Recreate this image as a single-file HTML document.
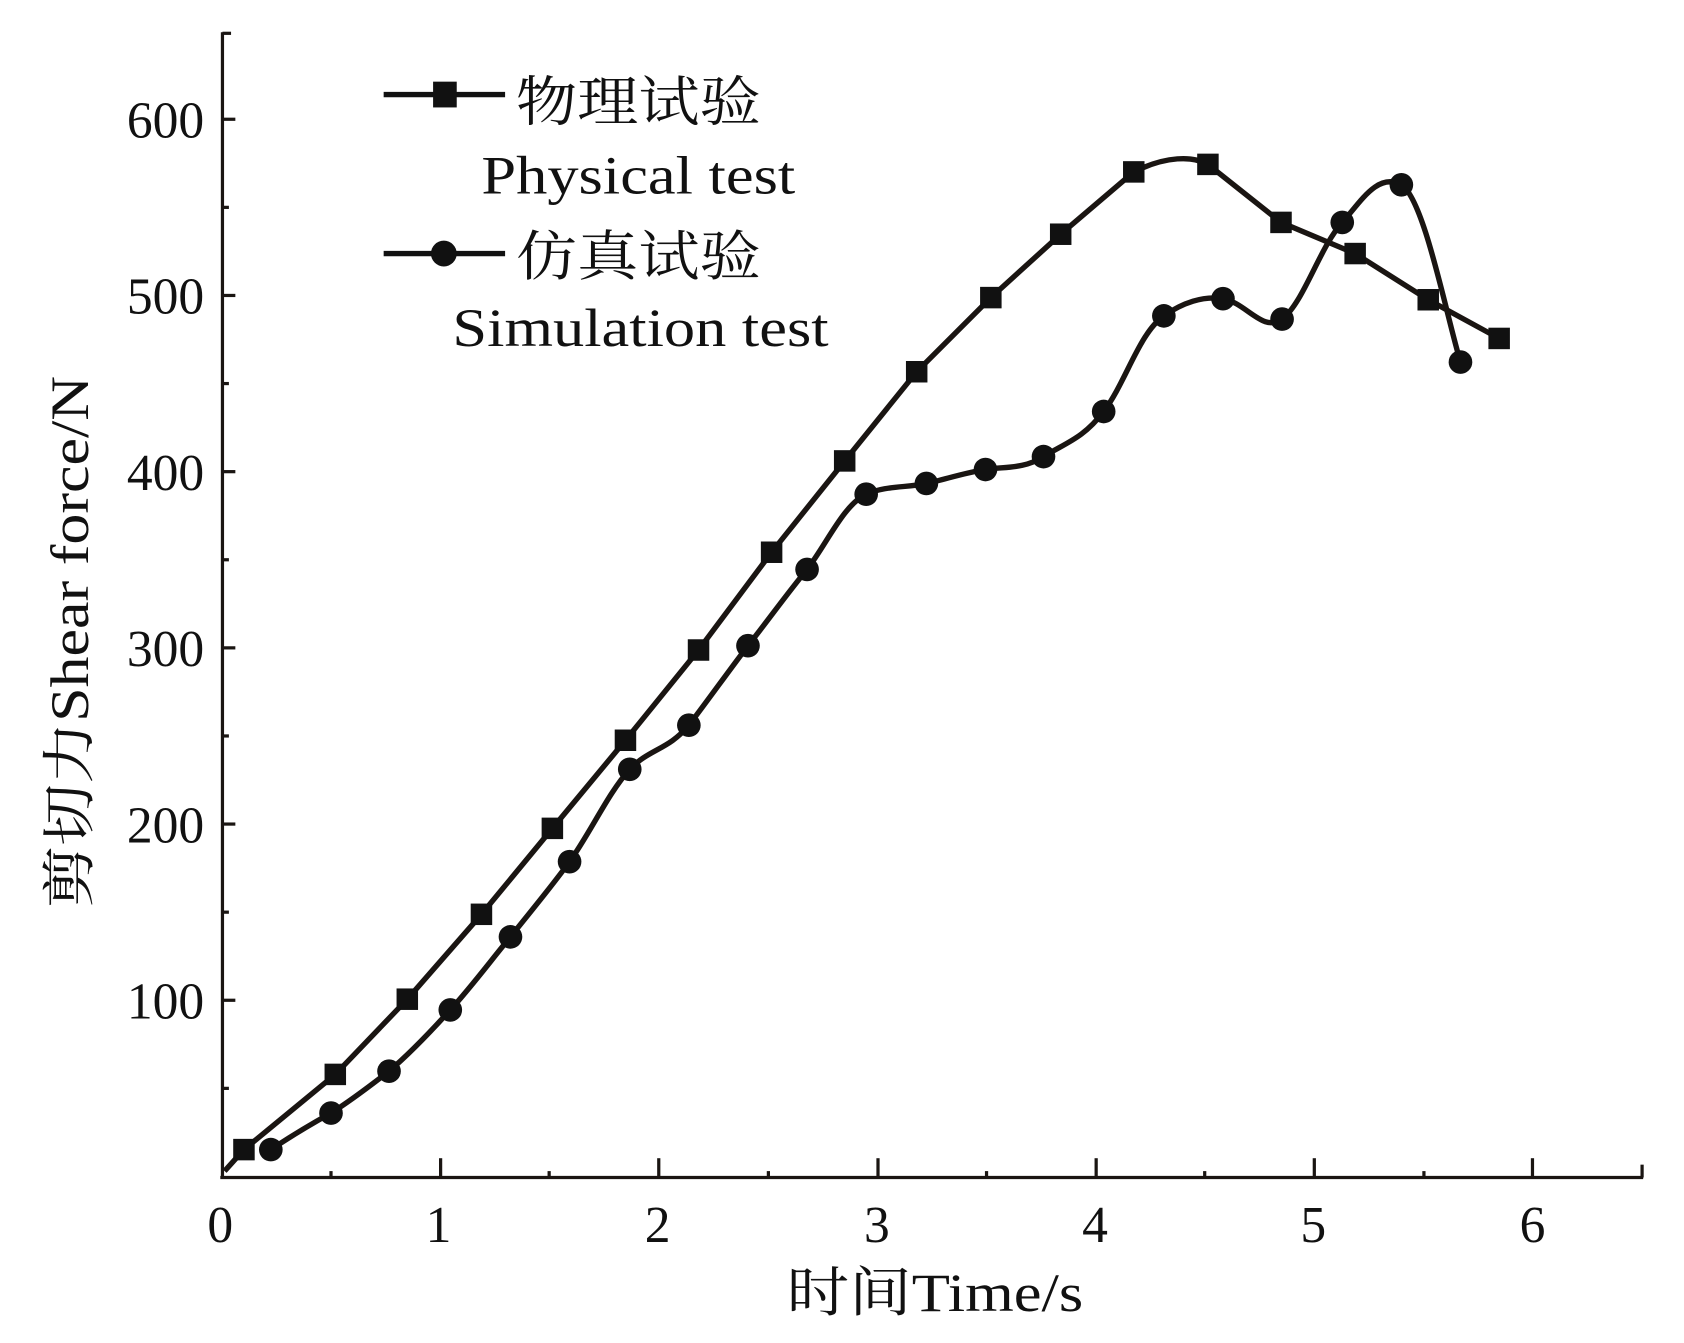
<!DOCTYPE html>
<html><head><meta charset="utf-8"><style>html,body{margin:0;padding:0;background:#fff}svg{display:block}</style></head><body>
<svg width="1684" height="1343" viewBox="0 0 1567 1250" preserveAspectRatio="none" xmlns="http://www.w3.org/2000/svg" font-family="'Liberation Serif','Noto Serif CJK SC',serif" fill="#111">
<g stroke="#1a1512" stroke-width="3" fill="none">
<line x1="207" y1="30" x2="207" y2="1097"/>
<line x1="205" y1="1096" x2="1529" y2="1096"/>
<line x1="207" y1="31" x2="215" y2="31"/>
<line x1="207" y1="111" x2="219" y2="111"/><line x1="207" y1="193" x2="213" y2="193"/>
<line x1="207" y1="275" x2="219" y2="275"/><line x1="207" y1="357" x2="213" y2="357"/>
<line x1="207" y1="439" x2="219" y2="439"/><line x1="207" y1="521" x2="213" y2="521"/>
<line x1="207" y1="603" x2="219" y2="603"/><line x1="207" y1="685" x2="213" y2="685"/>
<line x1="207" y1="767" x2="219" y2="767"/><line x1="207" y1="849" x2="213" y2="849"/>
<line x1="207" y1="931" x2="219" y2="931"/><line x1="207" y1="1013" x2="213" y2="1013"/>
<line x1="410" y1="1096" x2="410" y2="1078"/><line x1="613" y1="1096" x2="613" y2="1078"/>
<line x1="817" y1="1096" x2="817" y2="1078"/><line x1="1020" y1="1096" x2="1020" y2="1078"/>
<line x1="1223" y1="1096" x2="1223" y2="1078"/><line x1="1426" y1="1096" x2="1426" y2="1078"/>
<line x1="1528" y1="1096" x2="1528" y2="1084"/>
<line x1="308" y1="1096" x2="308" y2="1090"/><line x1="511" y1="1096" x2="511" y2="1090"/>
<line x1="715" y1="1096" x2="715" y2="1090"/><line x1="918" y1="1096" x2="918" y2="1090"/>
<line x1="1121" y1="1096" x2="1121" y2="1090"/><line x1="1325" y1="1096" x2="1325" y2="1090"/>
</g>
<g font-size="48" text-anchor="end">
<text x="190" y="128">600</text><text x="190" y="292">500</text><text x="190" y="456">400</text>
<text x="190" y="620">300</text><text x="190" y="784">200</text><text x="190" y="948">100</text>
</g>
<g font-size="48" text-anchor="middle">
<text x="205" y="1156">0</text><text x="408" y="1156">1</text><text x="612" y="1156">2</text>
<text x="816" y="1156">3</text><text x="1019" y="1156">4</text><text x="1222" y="1156">5</text><text x="1426" y="1156">6</text>
</g>
<text x="732" y="1220" font-size="50" textLength="276" lengthAdjust="spacingAndGlyphs">时间Time/s</text>
<text transform="translate(82,845) rotate(-90)" font-size="50" textLength="495" lengthAdjust="spacingAndGlyphs">剪切力Shear force/N</text>
<path fill="none" stroke="#1a1512" stroke-width="5" stroke-linejoin="round" d="M209,1090 L227,1070 L312,1000 L379,930 L448,851 L514,771 L582,689 L650,605 L718,514 L786,429 L853,346 L922,277 L987,218 L1055,160 C1085,145 1110,145 1124,153 L1192,207 L1261,236 L1329,279 L1395,315"/>
<g fill="#111">
<rect x="217" y="1060" width="20" height="20"/><rect x="302" y="990" width="20" height="20"/><rect x="369" y="920" width="20" height="20"/>
<rect x="438" y="841" width="20" height="20"/><rect x="504" y="761" width="20" height="20"/><rect x="572" y="679" width="20" height="20"/>
<rect x="640" y="595" width="20" height="20"/><rect x="708" y="504" width="20" height="20"/><rect x="776" y="419" width="20" height="20"/>
<rect x="843" y="336" width="20" height="20"/><rect x="912" y="267" width="20" height="20"/><rect x="977" y="208" width="20" height="20"/>
<rect x="1045" y="150" width="20" height="20"/><rect x="1114" y="143" width="20" height="20"/><rect x="1182" y="197" width="20" height="20"/>
<rect x="1251" y="226" width="20" height="20"/><rect x="1319" y="269" width="20" height="20"/><rect x="1385" y="305" width="20" height="20"/>
</g>
<path fill="none" stroke="#1a1512" stroke-width="5" stroke-linejoin="round" d="M252,1070 C270,1058 290,1046 308,1036 C327,1024 344,1011 362,997 C382,980 400,961 419,940 C439,918 456,895 475,872 C494,848 511,828 530,802 C550,774 566,738 586,716 C604,697 622,698 641,675 C660,650 677,626 696,601 C715,577 732,553 751,530 C770,505 785,470 806,460 C824,452 843,454 862,450 C880,446 898,440 917,437 C935,434 952,437 971,425 C992,412 1008,408 1027,383 C1048,355 1060,310 1083,294 C1100,282 1120,275 1138,278 C1160,282 1175,310 1193,297 C1213,282 1228,230 1249,207 C1266,188 1282,160 1304,172 C1325,185 1345,290 1359,337"/>
<g fill="#111">
<circle cx="252" cy="1070" r="11"/><circle cx="308" cy="1036" r="11"/><circle cx="362" cy="997" r="11"/><circle cx="419" cy="940" r="11"/>
<circle cx="475" cy="872" r="11"/><circle cx="530" cy="802" r="11"/><circle cx="586" cy="716" r="11"/><circle cx="641" cy="675" r="11"/>
<circle cx="696" cy="601" r="11"/><circle cx="751" cy="530" r="11"/><circle cx="806" cy="460" r="11"/><circle cx="862" cy="450" r="11"/>
<circle cx="917" cy="437" r="11"/><circle cx="971" cy="425" r="11"/><circle cx="1027" cy="383" r="11"/><circle cx="1083" cy="294" r="11"/>
<circle cx="1138" cy="278" r="11"/><circle cx="1193" cy="297" r="11"/><circle cx="1249" cy="207" r="11"/><circle cx="1304" cy="172" r="11"/>
<circle cx="1359" cy="337" r="11"/>
</g>
<line x1="357" y1="88" x2="470" y2="88" stroke="#111" stroke-width="5"/>
<rect x="403" y="76" width="22" height="24"/>
<text x="480" y="112" font-size="50" textLength="228" lengthAdjust="spacingAndGlyphs">物理试验</text>
<text x="448" y="180" font-size="50" textLength="292" lengthAdjust="spacingAndGlyphs">Physical test</text>
<line x1="357" y1="236" x2="470" y2="236" stroke="#111" stroke-width="5"/>
<circle cx="413" cy="236" r="12"/>
<text x="480" y="256" font-size="50" textLength="228" lengthAdjust="spacingAndGlyphs">仿真试验</text>
<text x="421" y="322" font-size="50" textLength="350" lengthAdjust="spacingAndGlyphs">Simulation test</text>
</svg>
</body></html>
